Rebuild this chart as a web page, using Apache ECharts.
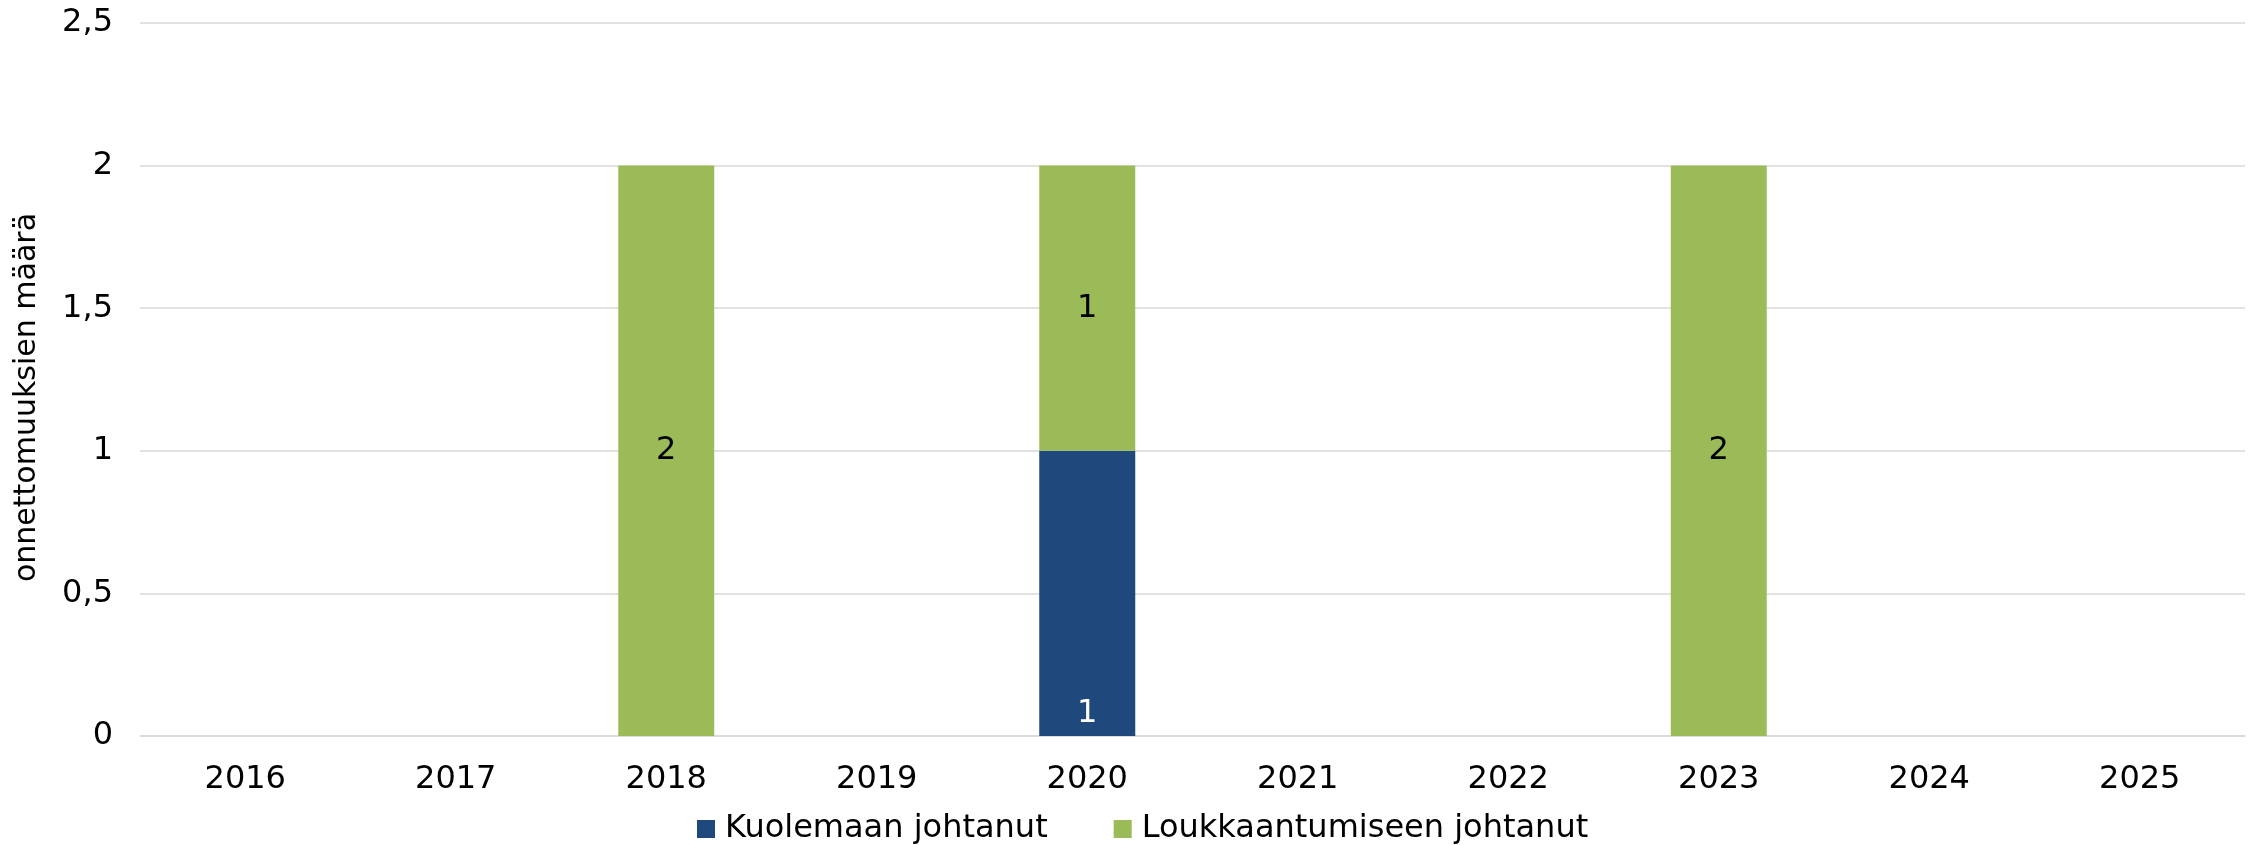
<!DOCTYPE html>
<html>
<head>
<meta charset="utf-8">
<script src="https://cdn.jsdelivr.net/npm/echarts@6/dist/echarts.min.js"></script>
<style>
    html, body { margin: 0; padding: 0; background: #fff; }
    #chart { width: 2254px; height: 845px; }
</style>
</head>
<body>
<div id="chart"></div>
<script>
var years = ['2016', '2017', '2018', '2019', '2020', '2021', '2022', '2023', '2024', '2025'];
var kuolemaan = [0, 0, 0, 0, 1, 0, 0, 0, 0, 0];
var loukkaantumiseen = [0, 0, 2, 0, 1, 0, 0, 2, 0, 0];
var seriesNames = ['Kuolemaan johtanut', 'Loukkaantumiseen johtanut'];
var yAxisName = 'onnettomuuksien määrä';

var font = 'DejaVu Sans, Verdana, sans-serif';

function hideZero(p) {
    return p.value ? String(p.value) : '';
}

var myChart = echarts.init(document.getElementById('chart'));

var option = {
    animation: false,
    textStyle: { fontFamily: font },
    grid: {
        left: 140,
        right: 9,
        top: 23,
        bottom: 109,
        containLabel: false,
        outerBoundsMode: 'none'
    },
    legend: {
        data: seriesNames,
        left: 692,
        top: 808,
        icon: 'rect',
        itemWidth: 18,
        itemHeight: 18,
        itemGap: 66,
        textStyle: { fontSize: 32, color: '#000', fontFamily: font, padding: [0, 0, 0, 5] }
    },
    xAxis: {
        type: 'category',
        data: years,
        axisTick: { show: false },
        axisLine: { lineStyle: { color: '#d9d9d9', width: 1.5 } },
        axisLabel: { fontSize: 32, color: '#000', margin: 28, fontFamily: font }
    },
    yAxis: {
        type: 'value',
        min: 0,
        max: 2.5,
        interval: 0.5,
        name: yAxisName,
        nameLocation: 'middle',
        nameGap: 98,
        nameTextStyle: { fontSize: 30, color: '#000', fontFamily: font, padding: [0, 36, 0, 0] },
        axisLine: { show: false },
        axisTick: { show: false },
        splitLine: { lineStyle: { color: '#d9d9d9', width: 1.5 } },
        axisLabel: {
            fontSize: 32,
            color: '#000',
            margin: 27,
            fontFamily: font,
            formatter: function (v) { return String(v).replace('.', ','); }
        }
    },
    series: [
        {
            name: seriesNames[0],
            type: 'bar',
            stack: 'total',
            data: kuolemaan,
            barWidth: '45.6%',
            itemStyle: { color: '#1f497d' },
            label: {
                show: true,
                position: 'insideBottom',
                distance: 6,
                color: '#fff',
                fontSize: 32,
                fontFamily: font,
                formatter: hideZero
            }
        },
        {
            name: seriesNames[1],
            type: 'bar',
            stack: 'total',
            data: loukkaantumiseen,
            barWidth: '45.6%',
            itemStyle: { color: '#9bbb59' },
            label: {
                show: true,
                position: 'inside',
                color: '#000',
                fontSize: 32,
                fontFamily: font,
                formatter: hideZero
            }
        }
    ]
};

myChart.setOption(option);
</script>
</body>
</html>
